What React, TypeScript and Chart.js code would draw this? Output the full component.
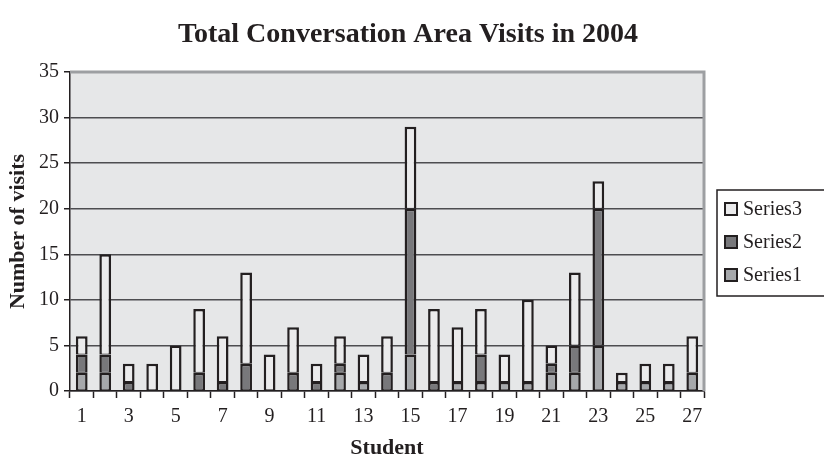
import React, { useEffect, useRef } from 'react';
import { Chart, registerables } from 'chart.js';

Chart.register(...registerables);

const students = ['1','2','3','4','5','6','7','8','9','10','11','12','13','14','15','16','17','18','19','20','21','22','23','24','25','26','27'];
const series1 = [2, 2, 0, 0, 0, 0, 0, 0, 0, 0, 0, 2, 1, 0, 4, 0, 1, 1, 1, 1, 2, 2, 5, 1, 1, 1, 2];
const series2 = [2, 2, 1, 0, 0, 2, 1, 3, 0, 2, 1, 1, 0, 2, 16, 1, 0, 3, 0, 0, 1, 3, 15, 0, 0, 0, 0];
const series3 = [2, 11, 2, 3, 5, 7, 5, 10, 4, 5, 2, 3, 3, 4, 9, 8, 6, 5, 3, 9, 2, 8, 3, 1, 2, 2, 4];
const seriesNames = ['Series1', 'Series2', 'Series3'];
const seriesColors = ['#a6a8ab', '#78787b', '#ebebec'];
const yTicks = [0, 5, 10, 15, 20, 25, 30, 35];

const TEXT = '#231f20';
const SERIF = '"Liberation Serif", "Times New Roman", serif';

const decorPlugin = {
  id: 'decor',
  beforeDraw(chart: any) {
    const { ctx, chartArea: a } = chart;
    ctx.save();
    ctx.fillStyle = '#e6e7e8';
    ctx.fillRect(a.left, a.top, a.right - a.left, a.bottom - a.top);
    ctx.restore();
  },
  afterDatasetsDraw(chart: any) {
    const { ctx, chartArea: a } = chart;
    ctx.save();
    ctx.strokeStyle = '#9d9fa2';
    ctx.lineWidth = 3;
    ctx.beginPath();
    ctx.moveTo(a.left, a.top);
    ctx.lineTo(a.right, a.top);
    ctx.lineTo(a.right, a.bottom);
    ctx.stroke();
    ctx.restore();
  },
  afterDraw(chart: any) {
    const { ctx } = chart;
    ctx.save();
    // title
    ctx.fillStyle = TEXT;
    ctx.font = 'bold 28px ' + SERIF;
    ctx.textAlign = 'center';
    ctx.textBaseline = 'middle';
    ctx.fillText('Total Conversation Area Visits in 2004', 408, 35);
    // legend
    const bx = 717, by = 190, bw = 112, bh = 106;
    ctx.fillStyle = '#ffffff';
    ctx.fillRect(bx, by, bw, bh);
    ctx.strokeStyle = TEXT;
    ctx.lineWidth = 1.5;
    ctx.strokeRect(bx, by, bw, bh);
    const rows = [209, 242, 275];
    const ds = chart.data.datasets.slice().reverse();
    ds.forEach((d: any, i: number) => {
      const cy = rows[i];
      ctx.fillStyle = d.backgroundColor;
      ctx.fillRect(725, cy - 6, 12, 12);
      ctx.strokeStyle = TEXT;
      ctx.lineWidth = 2;
      ctx.strokeRect(725, cy - 6, 12, 12);
      ctx.fillStyle = TEXT;
      ctx.font = '20px ' + SERIF;
      ctx.textAlign = 'left';
      ctx.textBaseline = 'middle';
      ctx.fillText(d.label, 743, cy + 1);
    });
    ctx.restore();
  },
};

export default function App() {
  const ref = useRef<HTMLCanvasElement | null>(null);
  useEffect(() => {
    if (!ref.current) return;
    const seriesData = [series1, series2, series3];
    const chart = new Chart(ref.current, {
      type: 'bar',
      data: {
        labels: students,
        datasets: seriesNames.map((name, i) => ({
          label: name,
          data: seriesData[i],
          backgroundColor: seriesColors[i],
          borderColor: TEXT,
          borderWidth: { top: 2.5, left: 2.5, right: 2.5, bottom: 1 },
          borderSkipped: false,
          barPercentage: 0.5,
          categoryPercentage: 1,
        })),
      },
      options: {
        responsive: false,
        animation: false,
        layout: { padding: { top: 72, right: 120, bottom: 0, left: 0 } },
        plugins: {
          legend: { display: false },
          title: { display: false },
          tooltip: { enabled: false },
        },
        scales: {
          x: {
            stacked: true,
            offset: true,
            afterFit: (s: any) => { s.height = 71; },
            grid: {
              display: true,
              drawOnChartArea: false,
              offset: true,
              tickLength: 7,
              tickColor: TEXT,
              tickWidth: 1.5,
            },
            border: { display: true, color: TEXT, width: 1.5 },
            ticks: {
              autoSkip: false,
              maxRotation: 0,
              padding: 7,
              color: TEXT,
              font: { family: SERIF, size: 20 },
              callback: (_v: any, idx: number) => (idx % 2 === 0 ? students[idx] : ''),
            },
            title: {
              display: true,
              text: 'Student',
              color: TEXT,
              font: { family: SERIF, size: 22, weight: 'bold' },
              padding: { top: 0, bottom: 0 },
            },
          },
          y: {
            stacked: true,
            min: 0,
            max: 35,
            afterFit: (s: any) => { s.width = 70; },
            afterBuildTicks: (s: any) => { s.ticks = yTicks.map((v) => ({ value: v })); },
            grid: {
              color: (c: any) => (c.tick && c.tick.value === 35 ? 'rgba(0,0,0,0)' : '#4d4d50'),
              lineWidth: 1.5,
              tickLength: 6,
              tickColor: TEXT,
              tickWidth: 1.5,
            },
            border: { display: true, color: TEXT, width: 1.5 },
            ticks: {
              padding: 5,
              color: TEXT,
              font: { family: SERIF, size: 20 },
            },
            title: {
              display: true,
              text: 'Number of visits',
              color: TEXT,
              font: { family: SERIF, size: 22, weight: 'bold' },
              padding: { top: 5, bottom: 0 },
            },
          },
        },
      },
      plugins: [decorPlugin],
    });
    return () => chart.destroy();
  }, []);
  return (
    <div style={{ position: 'absolute', left: 0, top: 0, width: 824, height: 462 }}>
      <canvas ref={ref} width={824} height={462} style={{ width: 824, height: 462 }} />
    </div>
  );
}
